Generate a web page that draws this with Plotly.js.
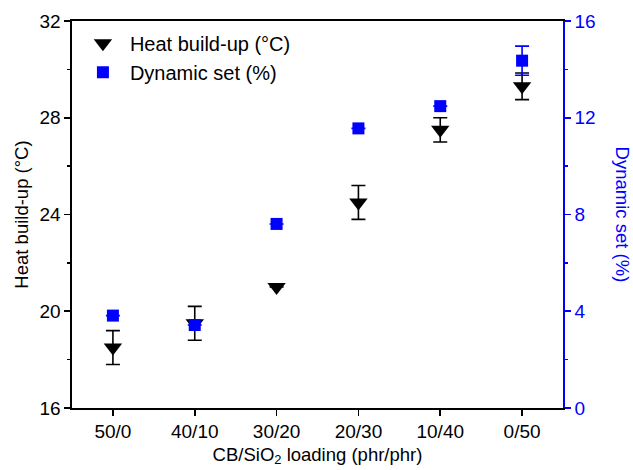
<!DOCTYPE html>
<html>
<head>
<meta charset="utf-8">
<script src="https://cdn.plot.ly/plotly-3.0.1.min.js"></script>
<style>html,body{margin:0;padding:0;background:#fff;}#chart{width:633px;height:470px;}</style>
</head>
<body>
<div id="chart"></div>
<script>
const categories = ["50/0", "40/10", "30/20", "20/30", "10/40", "0/50"];
const heatBuildUp = [18.5, 19.5, 21.0, 24.5, 27.5, 29.3];
const heatError = [0.7, 0.7, 0, 0.7, 0.5, 0.55];
const dynamicSet = [3.82, 3.43, 7.61, 11.56, 12.48, 14.36];
const dynamicError = [0, 0, 0, 0, 0, 0.6];
const leftTicks = [16, 20, 24, 28, 32];
const rightTicks = [0, 4, 8, 12, 16];

const FONT = "Liberation Sans, Arial, sans-serif";

const traces = [
  {
    x: categories, y: heatBuildUp, type: "scatter", mode: "markers",
    name: "Heat build-up (°C)",
    marker: {symbol: "triangle-down", size: 16, color: "#000000"},
    error_y: {type: "data", array: heatError, visible: true, color: "#000000", thickness: 1.6, width: 7},
    yaxis: "y"
  },
  {
    x: categories, y: dynamicSet, type: "scatter", mode: "markers",
    name: "Dynamic set (%)",
    marker: {symbol: "square", size: 12, color: "#0000FF"},
    error_y: {type: "data", array: dynamicError, visible: true, color: "#0000FF", thickness: 1.6, width: 7},
    yaxis: "y2"
  }
];

const layout = {
  width: 633, height: 470,
  margin: {l: 72, r: 70, t: 21, b: 62},
  paper_bgcolor: "#ffffff", plot_bgcolor: "#ffffff",
  font: {family: FONT, size: 19, color: "#000000"},
  showlegend: true,
  legend: {
    x: 0.008, y: 0.993, xanchor: "left", yanchor: "top",
    bgcolor: "rgba(0,0,0,0)", font: {family: FONT, size: 20, color: "#000"},
    tracegroupgap: 0, itemsizing: "trace", itemwidth: 44
  },
  xaxis: {
    type: "category", range: [-0.5, 5.5],
    showline: true, linecolor: "#000", linewidth: 1.6, mirror: true,
    ticks: "outside", ticklen: 6, tickwidth: 1.6, tickcolor: "#000",
    showgrid: false, zeroline: false,
    tickfont: {family: FONT, size: 19, color: "#000"},
    title: {text: "CB/SiO<sub>2</sub> loading (phr/phr)", font: {family: FONT, size: 18.5, color: "#000"}, standoff: 6}
  },
  yaxis: {
    range: [16, 32], tickvals: leftTicks, ticktext: leftTicks.map(String),
    showline: true, linecolor: "#000", linewidth: 1.6,
    ticks: "outside", ticklen: 6, tickwidth: 1.6, tickcolor: "#000",
    minor: {tickvals: [18, 22, 26, 30], ticks: "outside", ticklen: 3, tickwidth: 1.6, tickcolor: "#000"},
    showgrid: false, zeroline: false,
    tickfont: {family: FONT, size: 19, color: "#000"},
    title: {text: "Heat build-up (°C)", font: {family: FONT, size: 18.5, color: "#000"}, standoff: 6}
  },
  yaxis2: {
    range: [0, 16], overlaying: "y", side: "right", anchor: "x",
    tickvals: rightTicks, ticktext: rightTicks.map(String),
    showline: true, linecolor: "#0000FF", linewidth: 1.6,
    ticks: "outside", ticklen: 6, tickwidth: 1.6, tickcolor: "#0000FF",
    minor: {tickvals: [2, 6, 10, 14], ticks: "outside", ticklen: 3, tickwidth: 1.6, tickcolor: "#0000FF"},
    showgrid: false, zeroline: false,
    tickfont: {family: FONT, size: 19, color: "#0000FF"}
  },
  annotations: [
    {
      text: "Dynamic set (%)", xref: "paper", yref: "paper", x: 1.122, y: 0.5,
      xanchor: "center", yanchor: "middle", textangle: 90, showarrow: false,
      font: {family: FONT, size: 18.5, color: "#0000FF"}
    }
  ]
};

Plotly.newPlot("chart", traces, layout, {displayModeBar: false, staticPlot: true});
</script>
</body>
</html>
